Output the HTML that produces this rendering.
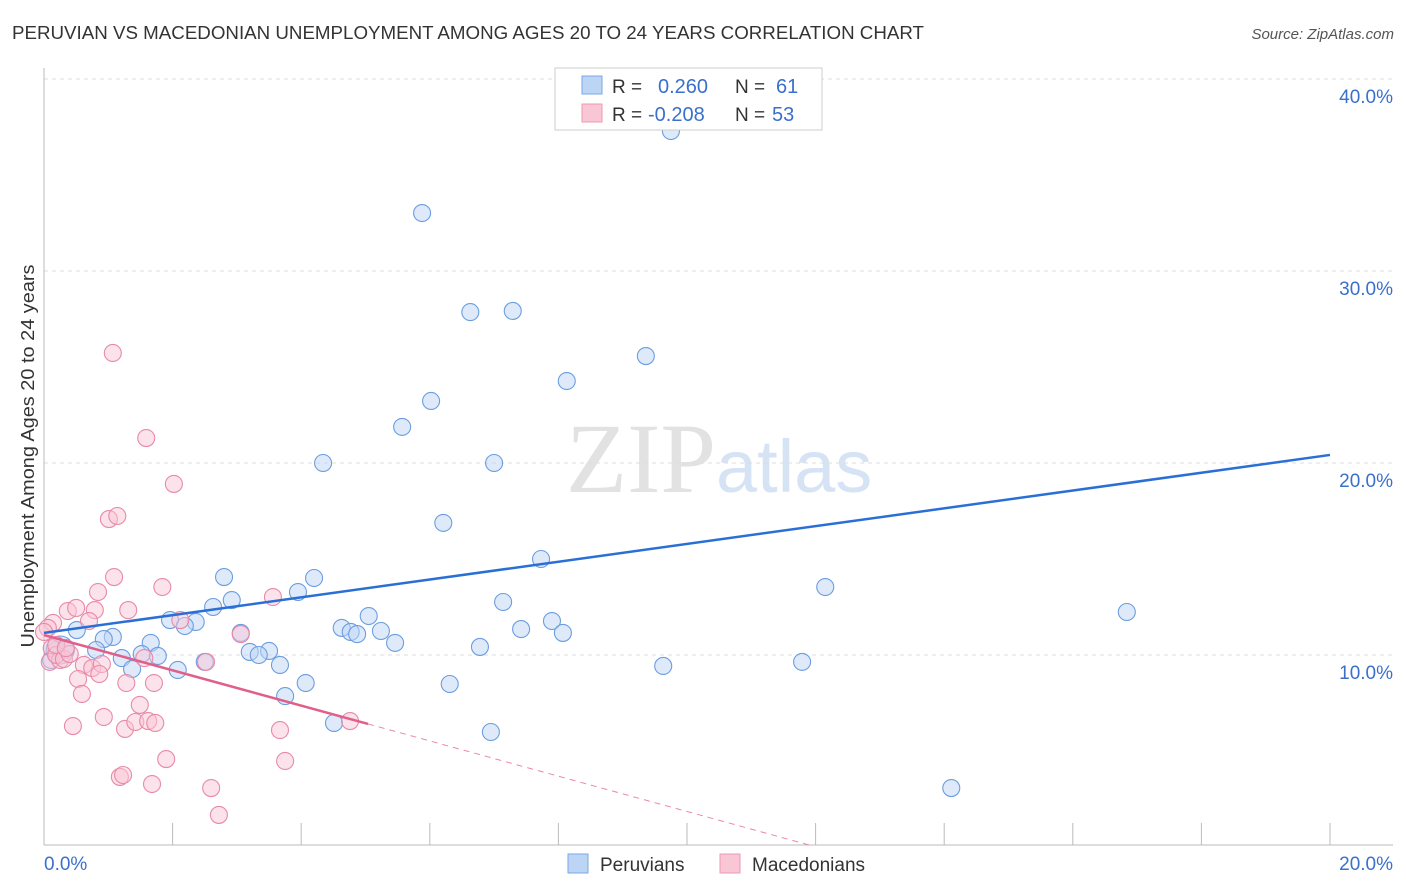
<!DOCTYPE html>
<html><head><meta charset="utf-8"><style>
body{margin:0;background:#fff;font-family:"Liberation Sans",sans-serif;}
#c{position:relative;width:1406px;height:892px;overflow:hidden;}
</style></head><body>
<div id="c">
<svg id="s" width="1406" height="892" xmlns="http://www.w3.org/2000/svg" font-family="Liberation Sans, sans-serif">
<text x="12" y="39" font-size="18" fill="#333" textLength="912" lengthAdjust="spacingAndGlyphs">PERUVIAN VS MACEDONIAN UNEMPLOYMENT AMONG AGES 20 TO 24 YEARS CORRELATION CHART</text>
<text x="1394" y="39" font-size="15" fill="#555" font-style="italic" text-anchor="end">Source: ZipAtlas.com</text>
<text x="716" y="492" font-size="100" fill="#e2e2e2" text-anchor="end" font-family="Liberation Serif, serif">ZIP</text>
<text x="716" y="492" font-size="74" fill="#d6e3f5">atlas</text>
<text transform="translate(34,456) rotate(-90)" font-size="18" fill="#333" text-anchor="middle" textLength="383" lengthAdjust="spacingAndGlyphs">Unemployment Among Ages 20 to 24 years</text>
<g id="grid"></g><g id="axes"></g><g id="pts"></g><g id="trend"></g>
<g>
<rect x="555" y="68" width="267" height="62" fill="#fff" stroke="#ccc"/>
<rect x="582" y="76" width="20" height="18" fill="#bdd5f5" stroke="#7aa7e6"/>
<rect x="582" y="104" width="20" height="18" fill="#f9c6d6" stroke="#ec9ab4"/>
<text x="612" y="93" font-size="19" fill="#333">R =</text><text x="658" y="93" font-size="20" fill="#3a70cc">0.260</text>
<text x="735" y="93" font-size="19" fill="#333">N =</text><text x="776" y="93" font-size="20" fill="#3a70cc">61</text>
<text x="612" y="121" font-size="19" fill="#333">R =</text><text x="648" y="121" font-size="20" fill="#3a70cc">-0.208</text>
<text x="735" y="121" font-size="19" fill="#333">N =</text><text x="772" y="121" font-size="20" fill="#3a70cc">53</text>
</g>
<g>
<rect x="568" y="854" width="20" height="19" fill="#bdd5f5" stroke="#7aa7e6"/>
<text x="600" y="871" font-size="19" fill="#333">Peruvians</text>
<rect x="720" y="854" width="20" height="19" fill="#f9c6d6" stroke="#ec9ab4"/>
<text x="752" y="871" font-size="19" fill="#333">Macedonians</text>
</g>
</svg>
</div>
<script>
const blueX=[9.75,5.88,6.63,7.29,9.36,8.13,6.02,5.57,4.34,7.00,6.21,7.73,12.15,16.84,2.80,4.20,3.95,2.92,2.63,7.14,7.90,1.96,2.36,2.19,5.05,4.63,4.77,4.87,5.24,7.42,8.07,0.51,1.07,0.93,1.66,3.06,5.46,6.78,3.50,3.20,3.34,1.52,1.77,1.21,0.81,0.34,0.19,0.11,1.37,2.08,2.50,3.67,9.63,11.79,4.07,3.75,6.31,4.51,6.95,14.11,0.25];
const blueY=[37.29,33.02,27.86,27.92,25.57,24.27,23.23,21.88,20.0,20.0,16.88,15.0,13.54,12.24,14.06,14.01,13.28,12.86,12.5,12.76,11.77,11.82,11.72,11.51,12.03,11.41,11.20,11.09,11.25,11.35,11.15,11.30,10.94,10.83,10.63,11.15,10.63,10.42,10.21,10.16,10.0,10.05,9.95,9.84,10.26,10.26,10.26,9.74,9.27,9.22,9.64,9.48,9.43,9.64,8.54,7.86,8.49,6.46,5.99,3.07,10.26];
const pinkX=[1.07,1.59,2.02,1.01,1.14,1.09,1.84,0.84,0.37,0.50,0.79,1.31,3.56,0.14,0.06,0.70,2.12,3.06,0.12,0.09,0.25,0.19,0.31,0.40,0.62,0.75,0.90,1.56,2.52,0.53,0.59,0.86,1.28,1.71,1.49,0.93,0.45,1.26,1.42,1.62,1.73,3.67,4.76,1.90,1.18,1.23,1.68,2.60,2.72,3.75,0.0,0.19,0.34];
const pinkY=[25.73,21.30,18.91,17.08,17.24,14.06,13.54,13.28,12.29,12.45,12.34,12.34,13.02,11.67,11.41,11.77,11.82,11.09,10.36,9.64,9.74,10.0,9.79,10.05,9.48,9.32,9.53,9.84,9.64,8.75,7.97,9.01,8.54,8.54,7.40,6.77,6.30,6.15,6.51,6.56,6.46,6.09,6.56,4.58,3.65,3.75,3.28,3.07,1.67,4.48,11.20,10.52,10.36];
const yTicks=[10,20,30,40];
const yTickLabels=["10.0%","20.0%","30.0%","40.0%"];
const xTickLabels=["0.0%","20.0%"];
const blueTrend=[11.15,20.42];
const pinkTrend=[11.04,-0.919];
const X=v=>44+v*64.3, Y=v=>847-v*19.2;
const NS="http://www.w3.org/2000/svg";
function mk(t,a,p){const e=document.createElementNS(NS,t);for(const k in a)e.setAttribute(k,a[k]);p.appendChild(e);return e;}
const grid=document.getElementById('grid'),axes=document.getElementById('axes'),pts=document.getElementById('pts'),tr=document.getElementById('trend');
yTicks.forEach((t,i)=>{
 const l=mk('line',{x1:44,x2:1393,y1:Y(t),y2:Y(t),stroke:'#ddd','stroke-dasharray':'4,4'},grid);
 
 
 const tx=mk('text',{x:1393,y:Y(t)+24,'font-size':19,fill:'#3a70cc','text-anchor':'end'},axes);
 tx.textContent=yTickLabels[i];
 
 
});
const ya=mk('line',{x1:44,x2:44,y1:68,y2:845,stroke:'#bbb'},axes);


const xa=mk('line',{x1:44,x2:1393,y1:845,y2:845,stroke:'#bbb'},axes);


for(let k=1;k<=10;k++){const l=mk('line',{x1:X(k*2),x2:X(k*2),y1:823,y2:845,stroke:'#bbb'},axes);
 
 }
[[0,'start',44],[20,'end',1393]].forEach((d,i)=>{const t=mk('text',{x:d[2],y:870,'font-size':19,fill:'#3a70cc','text-anchor':d[1]},axes);t.textContent=xTickLabels[i];
 
 });
function dots(xs,ys,f,s,n){xs.forEach((x,i)=>{const c=mk('circle',{cx:X(x),cy:Y(ys[i]),r:(i==xs.length-1&&n=='peruvian-point')?14:8.5,fill:f,'fill-opacity':0.5,stroke:s,'stroke-width':1.1},pts);
 
 });}
dots(blueX,blueY,'#bdd5f5','#6b9de0','peruvian-point');
dots(pinkX,pinkY,'#f9c6d6','#e88aa8','macedonian-point');
const bl=mk('line',{x1:X(0),y1:Y(blueTrend[0]),x2:X(20),y2:Y(blueTrend[1]),stroke:'#2a6fd6','stroke-width':2.5},tr);


const pe=5.04,pd=11.91;
const pl=mk('line',{x1:X(0),y1:Y(pinkTrend[0]),x2:X(pe),y2:Y(pinkTrend[0]+pinkTrend[1]*pe),stroke:'#e0608a','stroke-width':2.5},tr);


const pdl=mk('line',{x1:X(pe),y1:Y(pinkTrend[0]+pinkTrend[1]*pe),x2:X(pd),y2:Y(pinkTrend[0]+pinkTrend[1]*pd),stroke:'#e88aa8','stroke-width':1,'stroke-dasharray':'6,5'},tr);


</script>
</body></html>
